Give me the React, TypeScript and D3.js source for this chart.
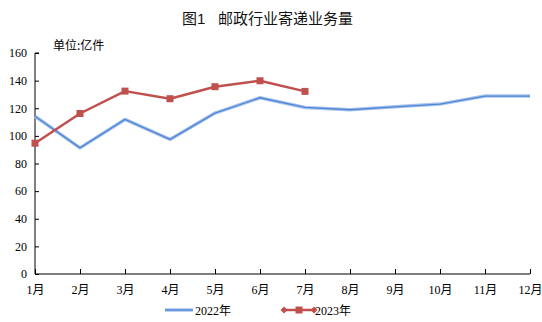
import React, { useEffect, useRef } from 'react'
import * as d3 from 'd3'

const months = ['1月', '2月', '3月', '4月', '5月', '6月', '7月', '8月', '9月', '10月', '11月', '12月']
const values2022 = [114.2, 91.3, 111.9, 97.4, 116.5, 127.6, 120.6, 118.9, 121.0, 123.0, 128.8, 128.8]
const values2023 = [94.7, 116.2, 132.4, 126.9, 135.6, 139.9, 132.2]
const yTicks = [0, 20, 40, 60, 80, 100, 120, 140, 160]

const W = 542
const H = 322
const margin = { top: 53, right: 12, bottom: 48, left: 35 }
const serif = '"Liberation Serif", "Noto Sans CJK SC", serif'
const cjk = '"Noto Sans CJK SC", sans-serif'

const App = () => {
  const ref = useRef(null)

  useEffect(() => {
    const svg = d3.select(ref.current)
    svg.selectAll('*').remove()

    const x = d3.scalePoint().domain(months).range([margin.left, W - margin.right])
    const y = d3.scaleLinear().domain([0, 160]).range([H - margin.bottom, margin.top])

    const title = svg.append('g')
      .attr('font-family', '"Liberation Sans", "Noto Sans CJK SC", sans-serif')
      .attr('font-size', 15).attr('fill', '#111')
    title.append('text').attr('x', 182).attr('y', 24).text('图1')
    title.append('text').attr('x', 218).attr('y', 24).text('邮政行业寄递业务量')

    svg.append('text')
      .attr('x', 53).attr('y', 50)
      .attr('font-family', cjk).attr('font-size', 12)
      .attr('fill', '#000')
      .text('单位:亿件')

    // y axis
    const yAxis = svg.append('g')
      .attr('transform', `translate(${margin.left},0)`)
      .call(d3.axisRight(y).tickValues(yTicks).tickSize(4).tickFormat(d3.format('d')))
    yAxis.select('.domain').attr('d', `M4,${y(160)}H0V${y(0)}`).attr('stroke', '#000')
    yAxis.selectAll('.tick line').attr('stroke', '#000')
    yAxis.selectAll('.tick text')
      .attr('x', -8).attr('text-anchor', 'end')
      .attr('font-family', serif).attr('font-size', 12).attr('fill', '#000')

    // x axis
    const xAxis = svg.append('g')
      .attr('transform', `translate(0,${y(0)})`)
      .call(d3.axisTop(x).tickSize(5).tickSizeOuter(0))
    xAxis.select('.domain').attr('d', `M${margin.left},0H${W - margin.right}`).attr('stroke', '#000')
    xAxis.selectAll('.tick line').attr('stroke', '#000')
    xAxis.selectAll('.tick text')
      .attr('y', 20).attr('dy', 0)
      .attr('font-family', serif).attr('font-size', 12).attr('fill', '#000')

    const line = d3.line<number>()
      .x((d, i) => x(months[i]))
      .y(d => y(d))

    svg.append('path')
      .datum(values2022)
      .attr('fill', 'none')
      .attr('stroke', '#a9c4ec')
      .attr('stroke-width', 3.5)
      .attr('stroke-linejoin', 'round')
      .attr('d', line)
    svg.append('path')
      .datum(values2022)
      .attr('fill', 'none')
      .attr('stroke', '#4f86d6')
      .attr('stroke-width', 1.4)
      .attr('stroke-linejoin', 'round')
      .attr('d', line)

    svg.append('path')
      .datum(values2023)
      .attr('fill', 'none')
      .attr('stroke', '#c0504d')
      .attr('stroke-width', 2.5)
      .attr('stroke-linejoin', 'round')
      .attr('d', line)
    svg.selectAll('.m23')
      .data(values2023)
      .join('rect')
      .attr('class', 'm23')
      .attr('x', (d, i) => x(months[i]) - 3.5)
      .attr('y', d => y(d) - 3.5)
      .attr('width', 7).attr('height', 7)
      .attr('fill', '#c0504d')

    // legend
    const ly = 310
    const lg = svg.append('g')
    lg.append('line')
      .attr('x1', 165).attr('x2', 193).attr('y1', ly).attr('y2', ly)
      .attr('stroke', '#a9c4ec').attr('stroke-width', 3.5)
    lg.append('line')
      .attr('x1', 165).attr('x2', 193).attr('y1', ly).attr('y2', ly)
      .attr('stroke', '#4f86d6').attr('stroke-width', 1.4)
    lg.append('text')
      .attr('x', 195).attr('y', ly + 4.5)
      .attr('font-family', serif).attr('font-size', 12).attr('fill', '#000')
      .text('2022年')

    lg.append('line')
      .attr('x1', 284).attr('x2', 314).attr('y1', ly).attr('y2', ly)
      .attr('stroke', '#c0504d').attr('stroke-width', 2.5)
    lg.append('rect')
      .attr('x', 295.5).attr('y', ly - 3.5).attr('width', 7).attr('height', 7)
      .attr('fill', '#c0504d')
    lg.selectAll('.dia')
      .data([284, 314])
      .join('path')
      .attr('class', 'dia')
      .attr('d', d => `M${d - 3.5},${ly}L${d},${ly - 3.5}L${d + 3.5},${ly}L${d},${ly + 3.5}Z`)
      .attr('fill', '#c0504d')
    lg.append('text')
      .attr('x', 315).attr('y', ly + 4.5)
      .attr('font-family', serif).attr('font-size', 12).attr('fill', '#000')
      .text('2023年')
  }, [])

  return (
    <svg width={W} height={H} ref={ref} style={{ position: 'absolute', left: 0, top: 0, background: '#fff' }} />
  )
}

export default App
